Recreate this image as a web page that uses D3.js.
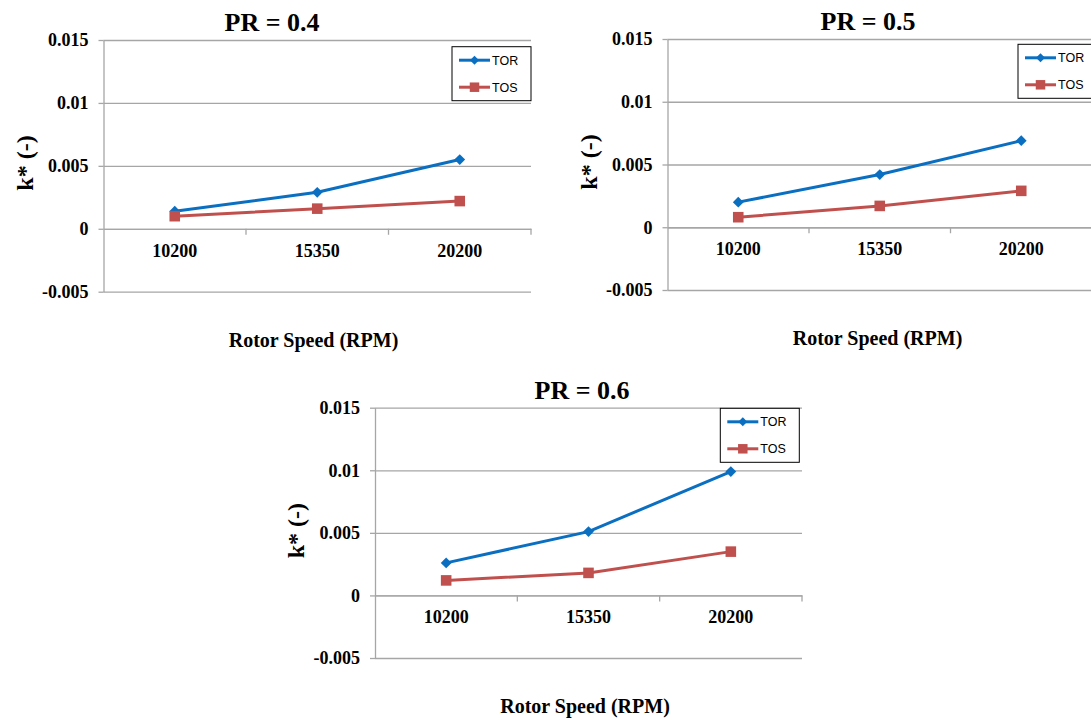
<!DOCTYPE html>
<html>
<head>
<meta charset="utf-8">
<script src="https://cdn.jsdelivr.net/npm/d3@7"></script>
<style>
  body { margin: 0; background: #fff; }
  svg { display: block; }
</style>
</head>
<body>
<div id="chart"></div>
<script>
// data
const speeds = ["10200", "15350", "20200"];
const prTitles = ["PR = 0.4", "PR = 0.5", "PR = 0.6"];
const torValues = [
    [0.0014, 0.0029, 0.0055],
    [0.0020, 0.0042, 0.0069],
    [0.0026, 0.0051, 0.0099]
];
const tosValues = [
    [0.0010, 0.0016, 0.0022],
    [0.0008, 0.0017, 0.0029],
    [0.0012, 0.0018, 0.0035]
];
const yTicks = [-0.005, 0, 0.005, 0.01, 0.015];
const seriesNames = ["TOR", "TOS"];

let torColour = "#0b6fc1";
let tosColour = "#c0504d";
let gridColour = "#a6a6a6";
let serif = "Liberation Serif";
let sans = "Liberation Sans";

// panel layout (plot area boxes)
const panels = [
    { left: 103.5, top: 40, right: 531, bottom: 291.7, titleX: 272, legTop: 46.7, legRight: 531 },
    { left: 667.5, top: 39, right: 1092, bottom: 290, titleX: 868, legTop: 44.3, legRight: 1097 },
    { left: 375, top: 407.7, right: 802, bottom: 658, titleX: 582, legTop: 408.3, legRight: 799.3 }
];

const width = 1091, height = 722;

var svg = d3.select("#chart")
    .append("svg")
    .attr("width", width)
    .attr("height", height);

function boldSerif(sel, size) {
    sel.attr("font-family", serif)
        .attr("font-size", size)
        .attr("font-weight", "bold")
        .attr("fill", "#000");
}

panels.forEach(function(p, i) {
    let g = svg.append("g");

    let x = d3.scaleBand().domain(speeds).range([p.left, p.right]).padding(0);
    let y = d3.scaleLinear().domain([-0.005, 0.015]).range([p.bottom, p.top]);
    let w = p.right - p.left;

    // gridlines
    g.append("g")
        .attr("transform", "translate(" + p.left + ",0)")
        .call(d3.axisLeft(y).tickValues(yTicks).tickSize(-w).tickFormat(""))
        .call(a => a.select(".domain").remove())
        .selectAll("line").attr("stroke", gridColour).attr("stroke-width", 1.3);

    // y axis with labels
    let ya = g.append("g")
        .attr("transform", "translate(" + p.left + ",0)")
        .call(d3.axisLeft(y).tickValues(yTicks).tickSize(5).tickSizeOuter(0).tickPadding(10)
            .tickFormat(d => String(+d.toFixed(3))));
    ya.select(".domain").attr("stroke", gridColour).attr("stroke-width", 1.3);
    ya.selectAll("line").attr("stroke", gridColour).attr("stroke-width", 1.3);
    boldSerif(ya, 18);
    boldSerif(ya.selectAll("text"), 18);

    // x axis at zero
    let xa = g.append("g")
        .attr("transform", "translate(0," + y(0) + ")")
        .call(d3.axisBottom(x).tickSize(0).tickSizeOuter(0).tickPadding(15));
    xa.select(".domain").attr("stroke", gridColour).attr("stroke-width", 1.3);
    boldSerif(xa, 18);
    boldSerif(xa.selectAll("text"), 18);

    // category boundary ticks
    g.selectAll(".ctick")
        .data(speeds)
        .enter().append("line")
        .attr("x1", d => x(d) + x.bandwidth())
        .attr("x2", d => x(d) + x.bandwidth())
        .attr("y1", y(0))
        .attr("y2", y(0) + 6)
        .attr("stroke", gridColour)
        .attr("stroke-width", 1.3);

    // title
    g.append("text")
        .attr("x", p.titleX)
        .attr("y", p.top - 9)
        .attr("text-anchor", "middle")
        .call(boldSerif, 26)
        .text(prTitles[i]);

    // axis titles
    g.append("text")
        .attr("x", p.left + 210)
        .attr("y", p.bottom + 55)
        .attr("text-anchor", "middle")
        .call(boldSerif, 20)
        .text("Rotor Speed (RPM)");

    g.append("text")
        .attr("transform", "translate(" + (p.left - 71) + "," + (p.top + 123) + ") rotate(-90)")
        .attr("text-anchor", "middle")
        .call(boldSerif, 24)
        .text("k* (-)");

    // series
    let series = [torValues[i], tosValues[i]];
    let colours = [torColour, tosColour];
    let line = d3.line()
        .x((d, j) => x(speeds[j]) + x.bandwidth() / 2)
        .y(d => y(d));

    series.forEach(function(vals, s) {
        g.append("path")
            .datum(vals)
            .attr("d", line)
            .attr("fill", "none")
            .attr("stroke", colours[s])
            .attr("stroke-width", 3);

        g.selectAll(".m" + s)
            .data(vals)
            .enter().append("path")
            .attr("d", s == 0 ? d3.symbol(d3.symbolSquare, 58)() : d3.symbol(d3.symbolSquare, 112)())
            .attr("transform", (d, j) => "translate(" + (x(speeds[j]) + x.bandwidth() / 2) + "," + y(d) + ")" + (s == 0 ? " rotate(45)" : ""))
            .attr("fill", colours[s]);
    });

    // legend
    let legW = 79, legH = 54;
    let lg = g.append("g")
        .attr("transform", "translate(" + (p.legRight - legW) + "," + p.legTop + ")");
    lg.append("rect")
        .attr("width", legW)
        .attr("height", legH)
        .attr("fill", "#fff")
        .attr("stroke", "#000")
        .attr("stroke-width", 1);

    seriesNames.forEach(function(name, s) {
        let ly = 13.5 + s * 27;
        lg.append("line")
            .attr("x1", 7).attr("x2", 38)
            .attr("y1", ly).attr("y2", ly)
            .attr("stroke", colours[s])
            .attr("stroke-width", 3);
        lg.append("path")
            .attr("d", s == 0 ? d3.symbol(d3.symbolSquare, 40)() : d3.symbol(d3.symbolSquare, 90)())
            .attr("transform", "translate(22.5," + ly + ")" + (s == 0 ? " rotate(45)" : ""))
            .attr("fill", colours[s]);
        lg.append("text")
            .attr("x", 40)
            .attr("y", ly)
            .attr("dy", "0.35em")
            .attr("font-family", sans)
            .attr("font-size", 12.5)
            .text(name);
    });
});
</script>
</body>
</html>
